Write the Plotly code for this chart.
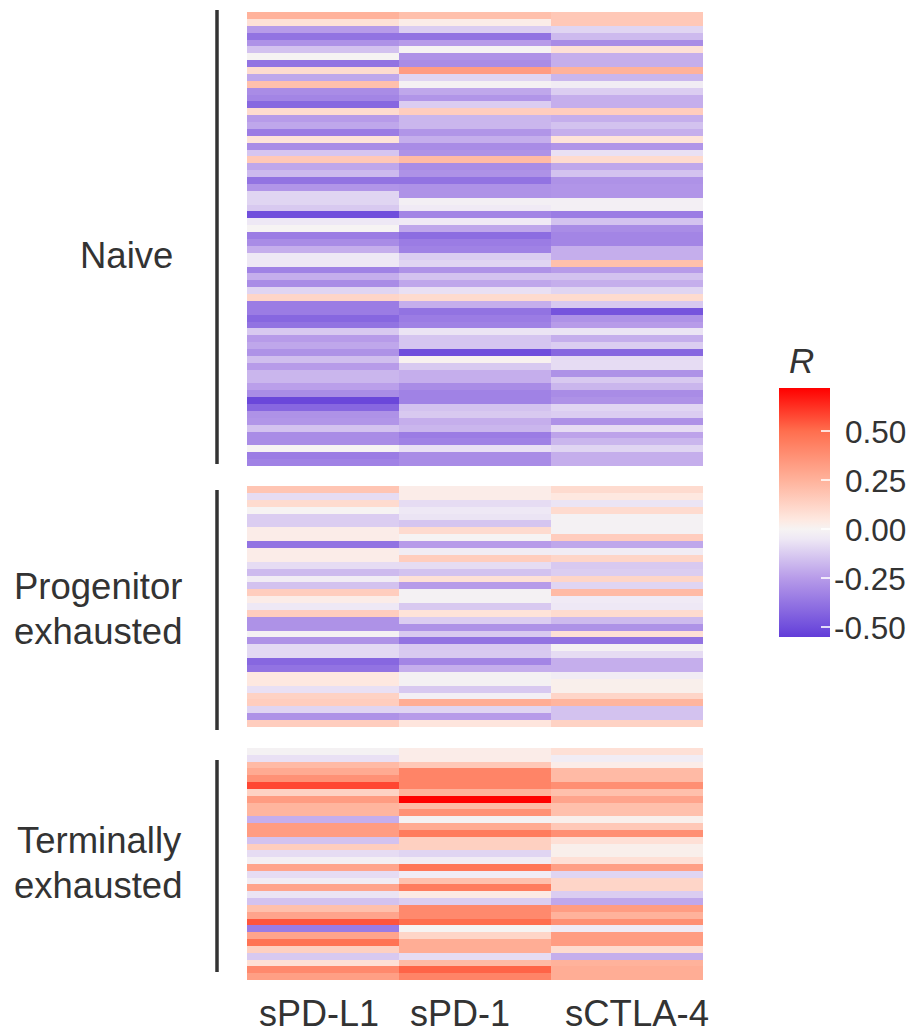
import plotly.graph_objects as go

W, H = 913, 1034
columns = ["sPD-L1", "sPD-1", "sCTLA-4"]
group_lines = [["Naive"], ["Progenitor", "exhausted"], ["Terminally", "exhausted"]]
legend_ticks = [0.5, 0.25, 0.0, -0.25, -0.5]
legend_labels = ["0.50", "0.25", "0.00", "-0.25", "-0.50"]

naive_spdl1 = [.25,.08,-.25,-.38,-.28,-.15,0,-.38,.1,-.22,.2,-.3,-.32,-.42,.1,-.25,-.22,-.35,.07,-.3,-.14,.17,
               -.22,-.17,-.38,-.27,-.1,-.1,-.13,-.5,-.05,0,-.35,-.3,-.2,-.05,-.05,-.33,-.2,-.3,-.1,.12,-.35,-.35,
               -.42,-.38,-.13,-.25,-.22,-.28,-.16,-.25,-.18,-.18,-.24,-.3,-.52,-.42,-.28,-.27,-.15,-.3,-.3,0,-.35,-.33]
naive_spd1 = [.2,.03,-.12,-.38,-.25,0,-.28,-.3,.33,-.1,-.01,-.22,-.27,-.12,.15,-.18,-.18,-.27,-.2,-.3,-.28,.22,
              -.3,-.28,-.38,-.28,-.28,-.02,-.04,-.32,-.04,-.22,-.4,-.35,-.33,-.12,-.1,-.28,-.15,-.22,-.07,.1,-.2,-.38,
              -.35,-.33,-.06,-.14,-.14,-.5,.01,-.13,-.2,-.2,-.3,-.33,-.33,-.15,-.13,-.2,-.18,-.35,-.33,-.07,-.3,-.3]
naive_sctla4 = [.17,.17,-.1,-.17,-.3,.08,-.2,-.2,.25,-.18,-.03,-.12,-.2,-.2,.15,-.2,-.15,-.2,.07,-.27,-.07,.1,
                -.22,-.15,-.28,-.27,-.27,-.02,-.02,-.35,-.15,-.3,-.32,-.32,-.2,-.2,.2,-.25,-.15,-.2,-.1,.1,-.13,-.48,
                -.28,-.25,-.06,-.2,-.12,-.42,-.08,-.08,-.28,-.13,-.18,-.3,-.28,-.1,-.12,-.28,-.08,-.23,-.18,-.1,-.2,-.2]

prog_spdl1 = [.18,-.08,.1,0,-.12,-.12,.03,.03,-.38,.03,.03,-.08,-.17,-.03,-.15,.15,.03,-.05,
              .15,-.28,-.28,-.01,-.28,-.09,-.09,-.42,-.38,.05,.05,-.07,.13,.15,-.1,-.28,.15]
prog_spd1 = [.03,.03,-.08,-.05,-.06,-.14,.1,0,-.25,-.03,.15,-.08,-.15,.08,-.25,-.01,-.01,-.13,
             .07,-.12,-.28,-.13,-.38,-.13,-.13,-.32,-.2,-.01,-.01,-.13,-.02,.27,-.1,-.25,.06]
prog_sctla4 = [.1,.05,-.06,.1,-.01,-.01,-.01,.15,-.22,-.03,.12,-.13,-.12,.12,-.1,.22,-.04,-.05,
               .1,-.17,-.28,.08,-.38,-.01,-.08,-.2,-.2,-.03,.02,.02,.12,.24,-.15,-.15,.13]

term_spdl1 = [-.01,-.07,.22,.28,.37,.58,.13,.33,.24,.24,-.2,.33,.33,-.15,.15,-.08,-.02,
              .3,-.08,-.03,.3,-.06,-.15,.2,.3,.55,-.35,.3,.48,.14,-.13,.08,.4,.32]
term_spd1 = [.03,.03,.17,.42,.42,.42,.25,.72,.22,.37,-.01,.28,.45,.14,.14,-.1,-.03,
             .47,-.03,.2,.45,.04,-.12,.4,.4,.5,0,.12,.27,.27,-.08,.22,.52,.42]
term_sctla4 = [.08,-.03,.03,.22,.22,.38,.2,.3,.2,.2,.02,.17,.38,.08,.02,.02,.08,
               .32,-.1,.12,.12,-.12,-.22,.33,.25,.38,-.04,.33,.33,.1,-.2,.25,.27,.27]

groups = [
    (naive_spdl1, naive_spd1, naive_sctla4),
    (prog_spdl1, prog_spd1, prog_sctla4),
    (term_spdl1, term_spd1, term_sctla4),
]

ZMIN, ZMAX = -0.55, 0.72
def norm(v):
    return (v - ZMIN) / (ZMAX - ZMIN)
colorscale = [
    [0, "rgb(98,60,216)"],
    [norm(-0.5), "rgb(112,78,220)"],
    [norm(-0.25), "rgb(183,155,233)"],
    [norm(-0.05), "rgb(238,232,245)"],
    [norm(0), "rgb(246,243,243)"],
    [norm(0.05), "rgb(254,232,224)"],
    [norm(0.25), "rgb(255,178,155)"],
    [norm(0.5), "rgb(255,110,78)"],
    [1, "rgb(255,0,0)"],
]

fig = go.Figure()
panel_px = [(12, 466), (486, 727), (748, 980)]
bar_px = [(10, 464), (490, 730), (760, 972)]
label_y = [[255], [586, 631], [840, 885]]
label_right = [175, 184, 184]
TEXT = "#333333"
FS = 36.5

def put(text, x, y, anchor, size=FS, color=TEXT):
    return dict(text=text, xref="paper", yref="paper", x=x / W, y=1 - y / H, xanchor=anchor,
                yanchor="middle", showarrow=False, font=dict(size=size, color=color))

for i, (cols, (top, bot)) in enumerate(zip(groups, panel_px)):
    suffix = "" if i == 0 else str(i + 1)
    z = [list(r) for r in zip(*cols)]
    fig.add_trace(go.Heatmap(z=z, x=columns, y=list(range(len(z))), coloraxis="coloraxis",
                             xaxis="x" + suffix, yaxis="y" + suffix, xgap=0, ygap=0))
    fig.layout["xaxis" + suffix] = dict(domain=[247 / W, 703 / W], visible=False, anchor="y" + suffix)
    fig.layout["yaxis" + suffix] = dict(domain=[1 - bot / H, 1 - top / H], visible=False,
                                        autorange="reversed", anchor="x" + suffix)

shapes, annotations = [], []
for (a, b), lines, ys, lr in zip(bar_px, group_lines, label_y, label_right):
    shapes.append(dict(type="line", xref="paper", yref="paper", x0=217 / W, x1=217 / W,
                       y0=1 - a / H, y1=1 - b / H, line=dict(color="#333333", width=3.5)))
    for text, ly in zip(lines, ys):
        annotations.append(put(text, lr, ly, "right"))
for name, cx, cy, fs in zip(columns, [319, 460, 636.5], [1013.5, 1013.5, 1013], [36, 36, 36.5]):
    annotations.append(put(name, cx, cy, "center", size=fs))
annotations.append(put("<i>R</i>", 801, 360, "center", size=35))

CB_TOP, CB_BOT, CB_L, CB_R = 388, 637, 779, 830
for v, lab in zip(legend_ticks, legend_labels):
    y = CB_BOT - norm(v) * (CB_BOT - CB_TOP)
    shapes.append(dict(type="line", xref="paper", yref="paper", x0=CB_L / W, x1=(CB_L + 9) / W,
                       y0=1 - y / H, y1=1 - y / H, line=dict(color="rgba(255,255,255,0.8)", width=1.5), layer="above"))
    annotations.append(put(lab, 908, y + 1, "right", size=31.5))

fig.update_layout(
    width=W, height=H, margin=dict(l=0, r=0, t=0, b=0),
    autosize=False,
    paper_bgcolor="white", plot_bgcolor="white",
    font=dict(family="Liberation Sans, Arial, sans-serif"),
    shapes=shapes, annotations=annotations,
    coloraxis=dict(cmin=ZMIN, cmax=ZMAX, colorscale=colorscale, colorbar=dict(
        thicknessmode="pixels", thickness=CB_R - CB_L, lenmode="pixels", len=CB_BOT - CB_TOP,
        x=CB_L / W, xanchor="left", xpad=0, y=1 - CB_BOT / H, yanchor="bottom", ypad=0,
        outlinewidth=0, ticks="inside", ticklen=9, tickcolor="rgba(255,255,255,0.8)", tickwidth=1.5,
        tickvals=legend_ticks, showticklabels=False,
    )),
)
fig.write_html("out.html", config={"displayModeBar": False},
               post_script="document.body.style.margin='0';document.body.style.overflow='hidden';")
